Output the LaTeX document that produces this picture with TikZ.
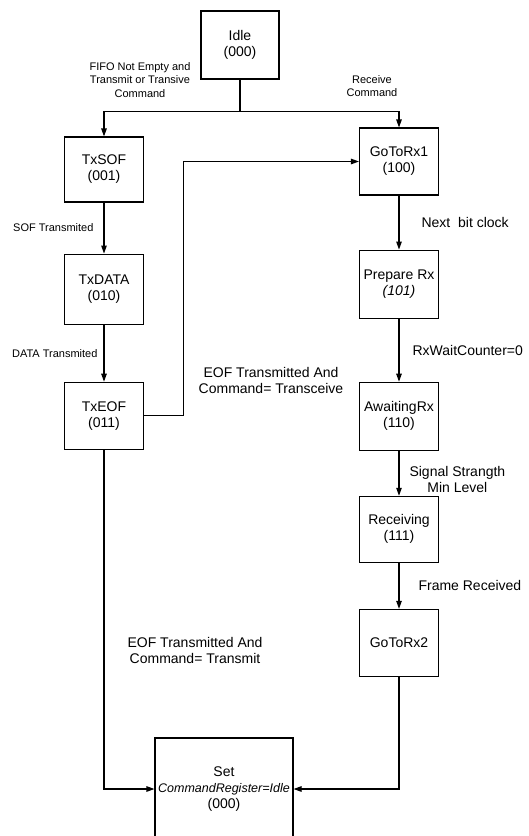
\documentclass[tikz,border=0pt]{standalone}
\usepackage{fontspec}
\setmainfont{Liberation Sans}
\usetikzlibrary{arrows.meta,positioning}

\begin{document}
\begin{tikzpicture}[
  x=1pt, y=1pt,
  state/.style={draw, line width=1.1pt, minimum width=79pt, minimum height=67pt, align=center, inner sep=1pt, font=\fontsize{14}{16}\selectfont},
  arrow/.style={-{Triangle[length=8pt, width=5.5pt]}, line width=1.1pt},
  link/.style={line width=1.1pt},
  cond/.style={font=\fontsize{11}{13.5}\selectfont, align=center, inner sep=0pt},
  bigcond/.style={font=\fontsize{14}{16}\selectfont, align=center, inner sep=0pt}
]
  \useasboundingbox (0,0) rectangle (528,-836);

  % Idle
  \node[state, minimum width=78pt, minimum height=68pt] (idle) at (240,-45) {Idle\\(000)};
  \coordinate[below=32pt of idle.south] (split);

  % Transmit side
  \node[state, minimum height=65pt] (txsof) at (104,-169.5) {TxSOF\\(001)};
  \node[state, minimum height=70pt, below=51pt of txsof] (txdata) {TxDATA\\(010)};
  \node[state, below=57pt of txdata] (txeof) {TxEOF\\(011)};

  % Receive side
  \node[state] (gotorx1) at (399,-161.5) {GoToRx1\\(100)};
  \node[state, minimum height=68pt, below=54pt of gotorx1] (preprx) {Prepare Rx\\\textit{(101)}};
  \node[state, minimum height=68pt, below=63pt of preprx] (awaitrx) {AwaitingRx\\(110)};
  \node[state, minimum height=66pt, below=45pt of awaitrx] (receiving) {Receiving\\(111)};
  \node[state, below=46pt of receiving] (gotorx2) {GoToRx2};

  % Back to idle
  \node[state, minimum width=138pt, minimum height=102pt] (setidle) at (224,-789)
    {Set\\{\fontsize{12.5}{16}\selectfont\itshape CommandRegister=Idle}\\(000)};

  % Arrows
  \draw[link] (idle) -- (split);
  \draw[arrow] (split) -| (txsof);
  \draw[arrow] (split) -| (gotorx1);
  \draw[arrow] (txsof) -- node[cond, left=10pt] {SOF Transmited} (txdata);
  \draw[arrow] (txdata) -- node[cond, left=6pt] {DATA Transmited} (txeof);
  \draw[arrow] (txeof.east) -- ++(39,0) |- (gotorx1.west);
  \draw[arrow] (gotorx1) -- node[bigcond, right=22pt] {Next\ \ bit clock} (preprx);
  \draw[arrow] (preprx) -- node[bigcond, right=13pt] {RxWaitCounter=0} (awaitrx);
  \draw[arrow] (awaitrx) -- node[bigcond, right=10pt, yshift=-6pt] {Signal Strangth\\Min Level} (receiving);
  \draw[arrow] (receiving) -- node[bigcond, right=19pt] {Frame Received} (gotorx2);
  \draw[arrow] (txeof) |- (setidle);
  \draw[arrow] (gotorx2) |- (setidle);

  % Conditions
  \node[cond] (fifo) at (140,-80) {FIFO Not Empty and\\Transmit or Transive\\Command};
  \node[cond] (recv) at (372,-86) {Receive\\Command};
  \node[bigcond] (trxeof) at (271,-380) {EOF Transmitted And\\Command= Transceive};
  \node[bigcond] (txonly) at (195,-650) {EOF Transmitted And\\Command= Transmit};
\end{tikzpicture}
\end{document}
